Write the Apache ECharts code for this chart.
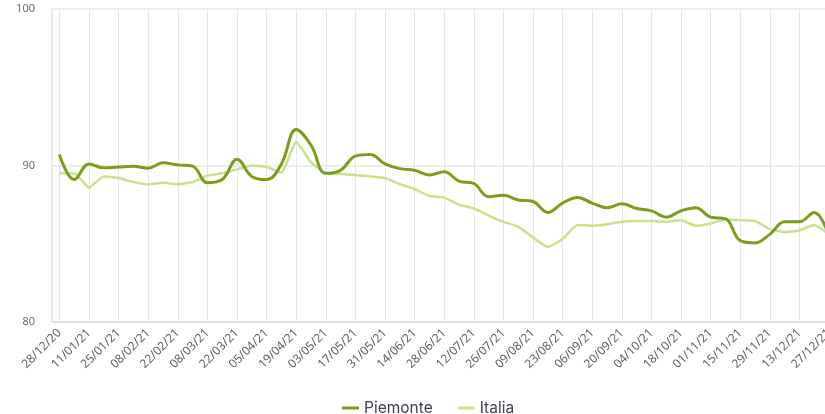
<!DOCTYPE html>
<html>
<head>
<meta charset="utf-8">
<script src="https://cdn.jsdelivr.net/npm/echarts@6/dist/echarts.min.js"></script>
<style>html,body{margin:0;padding:0;background:#fff;overflow:hidden;}#c{width:825px;height:414px;}</style>
</head>
<body>
<div id="c"></div>
<script>
const categories = [
  '28/12/20','04/01/21','11/01/21','18/01/21','25/01/21','01/02/21','08/02/21','15/02/21','22/02/21','01/03/21',
  '08/03/21','15/03/21','22/03/21','29/03/21','05/04/21','12/04/21','19/04/21','26/04/21','03/05/21','10/05/21',
  '17/05/21','24/05/21','31/05/21','07/06/21','14/06/21','21/06/21','28/06/21','05/07/21','12/07/21','19/07/21',
  '26/07/21','02/08/21','09/08/21','16/08/21','23/08/21','30/08/21','06/09/21','13/09/21','20/09/21','27/09/21',
  '04/10/21','11/10/21','18/10/21','25/10/21','01/11/21','08/11/21','15/11/21','22/11/21','29/11/21','06/12/21',
  '13/12/21','20/12/21','27/12/21'
];
const piemonte = [
  90.7, 89.1, 90.1, 89.85, 89.9, 89.95, 89.83, 90.17, 90.04, 89.96,
  88.9, 89.1, 90.4, 89.3, 89.1, 90.1, 92.3, 91.3, 89.5, 89.7,
  90.6, 90.7, 90.1, 89.8, 89.7, 89.4, 89.6, 89.0, 88.85, 88.0,
  88.1, 87.8, 87.7, 87.0, 87.6, 87.95, 87.6, 87.3, 87.55, 87.25,
  87.1, 86.7, 87.1, 87.3, 86.7, 86.6, 85.2, 85.05, 85.6, 86.4,
  86.4, 87.0, 85.5
];
const italia = [
  89.5, 89.5, 88.6, 89.3, 89.2, 88.95, 88.8, 88.9, 88.8, 88.95,
  89.35, 89.5, 89.75, 90.0, 89.9, 89.55, 91.5, 90.2, 89.5, 89.45,
  89.4, 89.3, 89.2, 88.8, 88.5, 88.05, 87.95, 87.5, 87.25, 86.8,
  86.4, 86.1, 85.4, 84.8, 85.3, 86.2, 86.15, 86.25, 86.4, 86.45,
  86.45, 86.4, 86.5, 86.15, 86.3, 86.55, 86.5, 86.45, 85.95, 85.75,
  85.85, 86.2, 85.6
];
const yTicks = {min: 80, max: 100, interval: 10};

const chart = echarts.init(document.getElementById('c'), null, {renderer: 'canvas'});
chart.setOption({
  animation: false,
  backgroundColor: '#ffffff',
  grid: {
    left: 52, top: 9, width: 784.4, height: 313,
    outerBoundsMode: 'none', containLabel: false,
    show: true, borderColor: '#e2e2e2', borderWidth: 1.5, backgroundColor: 'transparent'
  },
  legend: {
    left: 337, top: 395,
    itemWidth: 17, itemHeight: 3, itemGap: 25,
    icon: 'rect',
    textStyle: {fontFamily: 'Inter, "Noto Sans", sans-serif', fontSize: 15.5, color: '#3f4154'},
    data: ['Piemonte', 'Italia']
  },
  xAxis: {
    type: 'category',
    data: categories,
    boundaryGap: true,
    axisLine: {show: true, lineStyle: {color: '#d6dce8', width: 1.5}},
    axisTick: {show: true, inside: true, length: 313, alignWithLabel: true, interval: 1,
      lineStyle: {color: '#e6e6e6', width: 1}},
    axisLabel: {interval: 1, rotate: 45, margin: 9, fontSize: 12, color: '#606060',
      fontFamily: '"Noto Sans", sans-serif'},
    splitLine: {show: false}
  },
  yAxis: {
    type: 'value',
    min: yTicks.min, max: yTicks.max, interval: yTicks.interval,
    axisLine: {show: false},
    axisTick: {show: false},
    axisLabel: {margin: 17, fontSize: 11, color: '#6a6a6a', fontFamily: '"Noto Sans", sans-serif'},
    splitLine: {show: true, lineStyle: {color: '#eeeeee', width: 2}}
  },
  series: [
    {
      name: 'Piemonte', type: 'line', data: piemonte,
      smooth: 0.4, symbol: 'none',
      lineStyle: {color: '#7b9c1c', width: 3},
      itemStyle: {color: '#7b9c1c'}, z: 3
    },
    {
      name: 'Italia', type: 'line', data: italia,
      smooth: 0.15, symbol: 'none',
      lineStyle: {color: '#c9e28c', width: 2.5},
      itemStyle: {color: '#c9e28c'}, z: 2
    }
  ]
});
</script>
</body>
</html>
